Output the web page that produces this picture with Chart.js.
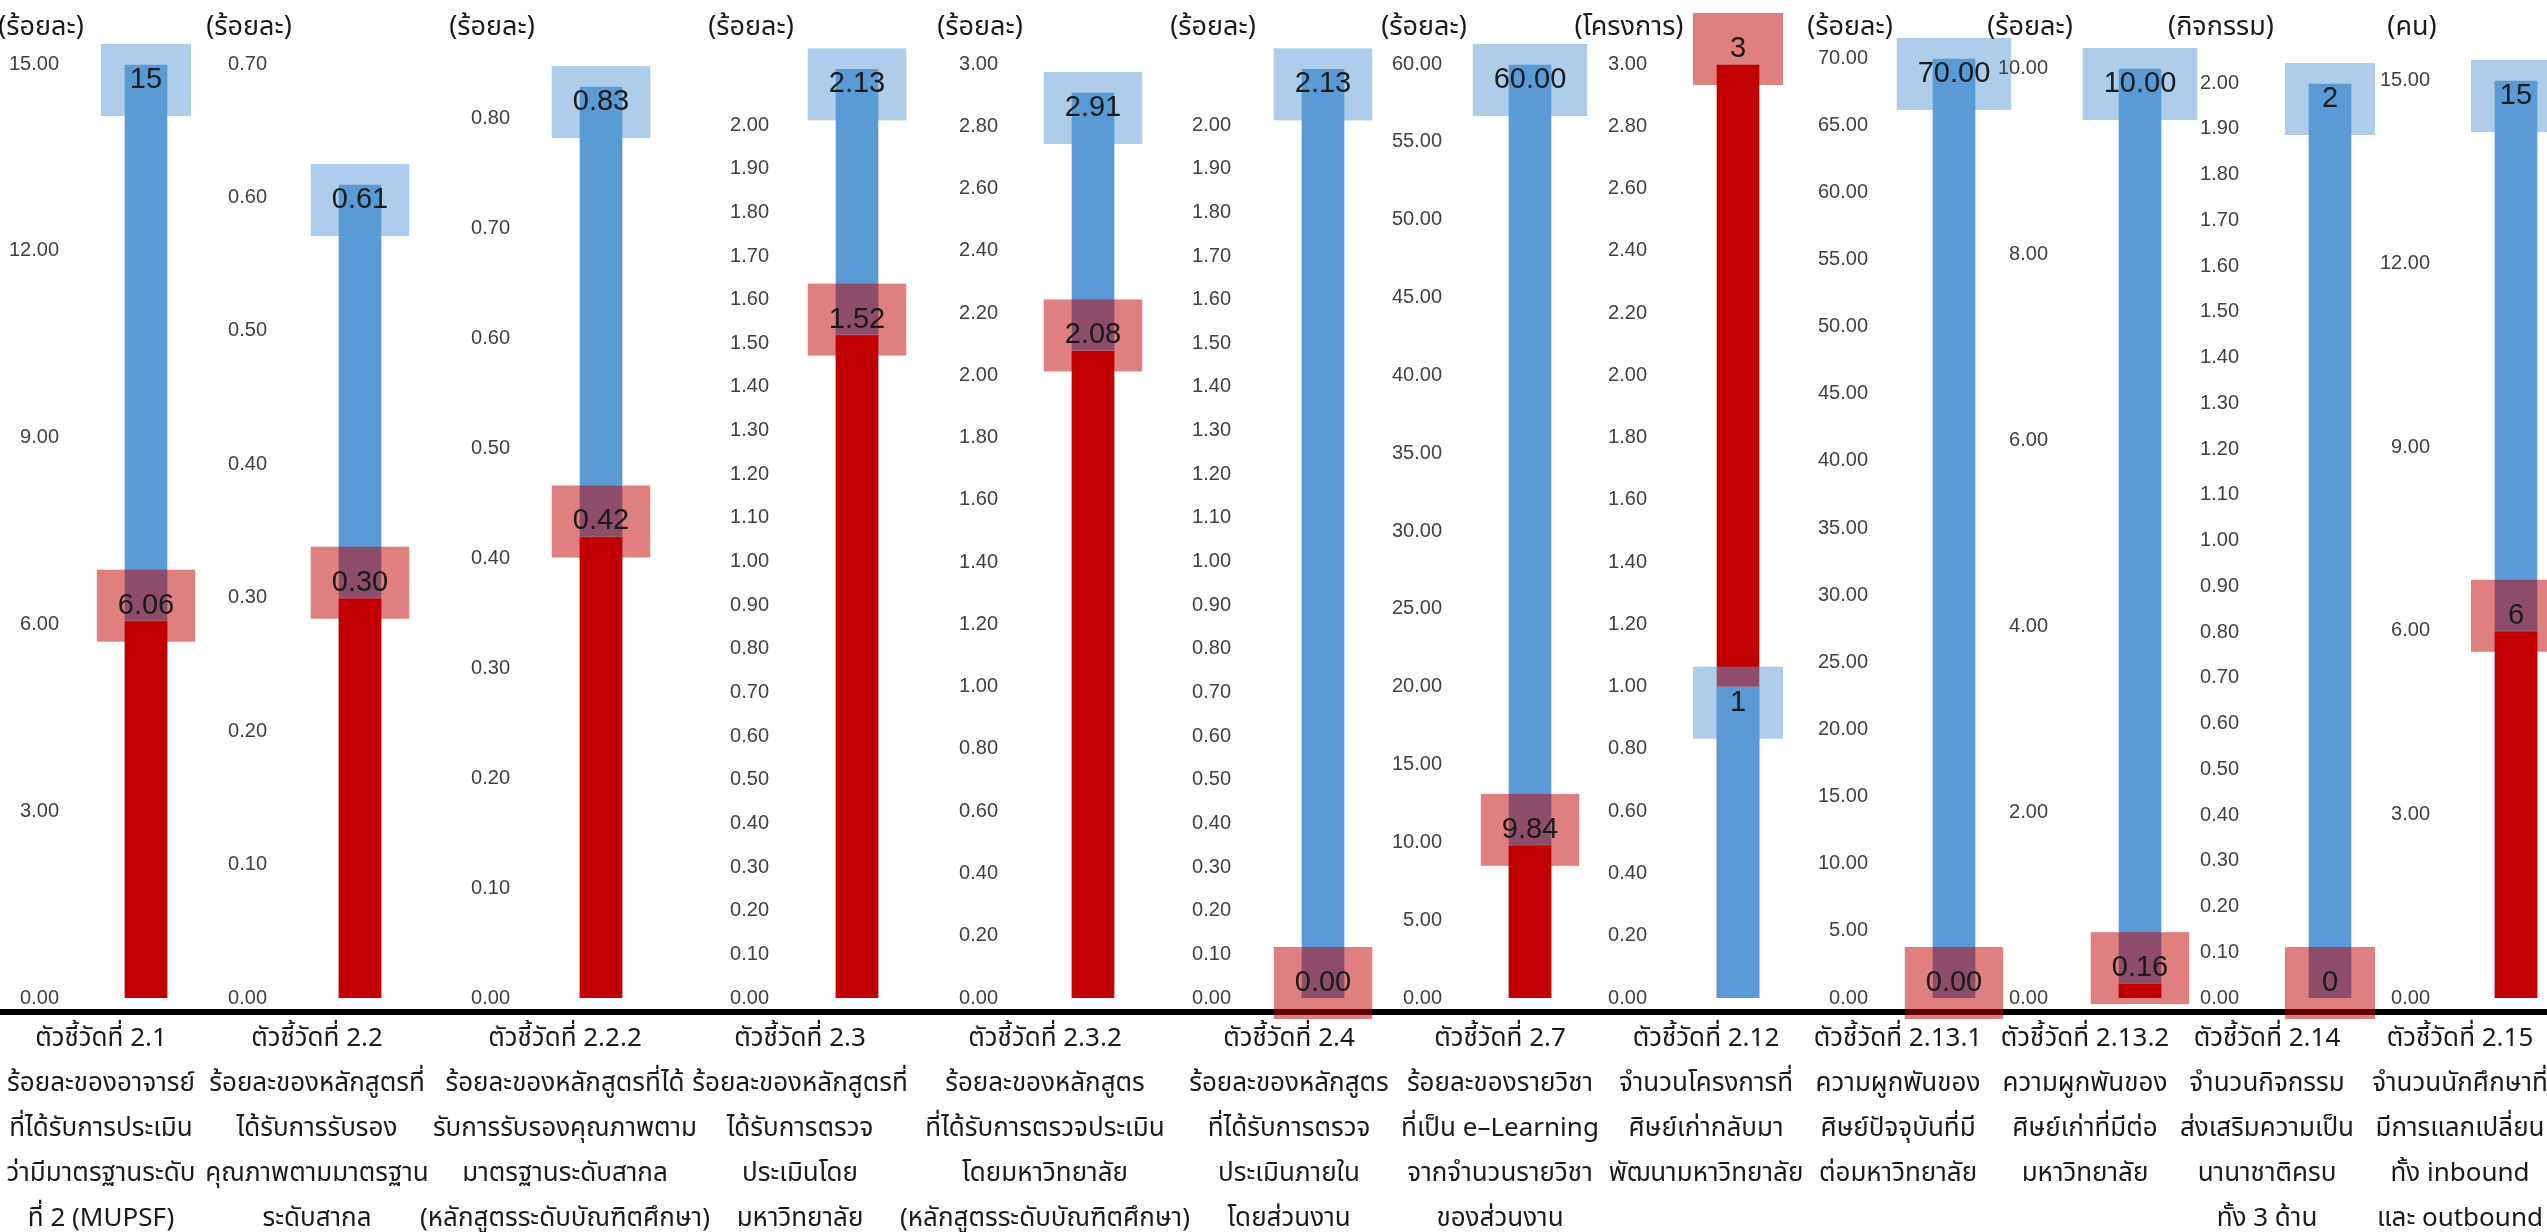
<!DOCTYPE html>
<html>
<head>
<meta charset="utf-8">
<script src="https://cdn.jsdelivr.net/npm/chart.js@4.4.1/dist/chart.umd.min.js"></script>
<style>
  html, body { margin: 0; padding: 0; background: #fff; overflow: hidden; }
  #wrap { position: relative; width: 2547px; height: 1232px; overflow: hidden; }
  #wrap canvas { position: absolute; top: 0; }
  #baseline { position: absolute; left: 0; top: 1009px; width: 2547px; height: 6px; background: #000; }
</style>
</head>
<body>
<div id="wrap"><div id="baseline"></div></div>
<script>
// Indicator names (shown under each panel)
const indicatorLabels = [
  ['ตัวชี้วัดที่ 2.1', 'ร้อยละของอาจารย์', 'ที่ได้รับการประเมิน', 'ว่ามีมาตรฐานระดับ', 'ที่ 2 (MUPSF)'],
  ['ตัวชี้วัดที่ 2.2', 'ร้อยละของหลักสูตรที่', 'ได้รับการรับรอง', 'คุณภาพตามมาตรฐาน', 'ระดับสากล'],
  ['ตัวชี้วัดที่ 2.2.2', 'ร้อยละของหลักสูตรที่ได้', 'รับการรับรองคุณภาพตาม', 'มาตรฐานระดับสากล', '(หลักสูตรระดับบัณฑิตศึกษา)'],
  ['ตัวชี้วัดที่ 2.3', 'ร้อยละของหลักสูตรที่', 'ได้รับการตรวจ', 'ประเมินโดย', 'มหาวิทยาลัย'],
  ['ตัวชี้วัดที่ 2.3.2', 'ร้อยละของหลักสูตร', 'ที่ได้รับการตรวจประเมิน', 'โดยมหาวิทยาลัย', '(หลักสูตรระดับบัณฑิตศึกษา)'],
  ['ตัวชี้วัดที่ 2.4', 'ร้อยละของหลักสูตร', 'ที่ได้รับการตรวจ', 'ประเมินภายใน', 'โดยส่วนงาน'],
  ['ตัวชี้วัดที่ 2.7', 'ร้อยละของรายวิชา', 'ที่เป็น e–Learning', 'จากจำนวนรายวิชา', 'ของส่วนงาน'],
  ['ตัวชี้วัดที่ 2.12', 'จำนวนโครงการที่', 'ศิษย์เก่ากลับมา', 'พัฒนามหาวิทยาลัย'],
  ['ตัวชี้วัดที่ 2.13.1', 'ความผูกพันของ', 'ศิษย์ปัจจุบันที่มี', 'ต่อมหาวิทยาลัย'],
  ['ตัวชี้วัดที่ 2.13.2', 'ความผูกพันของ', 'ศิษย์เก่าที่มีต่อ', 'มหาวิทยาลัย'],
  ['ตัวชี้วัดที่ 2.14', 'จำนวนกิจกรรม', 'ส่งเสริมความเป็น', 'นานาชาติครบ', 'ทั้ง 3 ด้าน'],
  ['ตัวชี้วัดที่ 2.15', 'จำนวนนักศึกษาที่', 'มีการแลกเปลี่ยน', 'ทั้ง inbound', 'และ outbound']
];
const unitLabels = ['(ร้อยละ)', '(ร้อยละ)', '(ร้อยละ)', '(ร้อยละ)', '(ร้อยละ)', '(ร้อยละ)',
  '(ร้อยละ)', '(โครงการ)', '(ร้อยละ)', '(ร้อยละ)', '(กิจกรรม)', '(คน)'];

// Target (blue) and result (red) per indicator
const targetValues = [15, 0.61, 0.83, 2.13, 2.91, 2.13, 60.00, 1, 70.00, 10.00, 2, 15];
const actualValues = [6.06, 0.30, 0.42, 1.52, 2.08, 0.00, 9.84, 3, 0.00, 0.16, 0, 6];
const targetDecimals = [0, 2, 2, 2, 2, 2, 2, 0, 2, 2, 0, 0];
const actualDecimals = [2, 2, 2, 2, 2, 2, 2, 0, 2, 2, 0, 0];

// Axis of each panel
const axisMax = [15, 0.70, 0.85, 2.14, 3.00, 2.14, 60, 3.00, 70, 10, 2.00, 15];
const tickStep = [3, 0.1, 0.1, 0.1, 0.2, 0.1, 5, 0.2, 5, 2, 0.1, 3];

// Where each panel sits on the page
const panelLayout = [
  { tickRight: 59,   barCenter: 146,  labelShift: -45, top: 64 },
  { tickRight: 267,  barCenter: 360,  labelShift: -43, top: 64 },
  { tickRight: 510,  barCenter: 601,  labelShift: -36, top: 64 },
  { tickRight: 769,  barCenter: 857,  labelShift: -57, top: 64 },
  { tickRight: 998,  barCenter: 1093, labelShift: -48, top: 64 },
  { tickRight: 1231, barCenter: 1323, labelShift: -34, top: 64 },
  { tickRight: 1442, barCenter: 1530, labelShift: -30, top: 64 },
  { tickRight: 1647, barCenter: 1738, labelShift: -32, top: 64 },
  { tickRight: 1868, barCenter: 1954, labelShift: -56, top: 58 },
  { tickRight: 2048, barCenter: 2140, labelShift: -55, top: 68 },
  { tickRight: 2239, barCenter: 2330, labelShift: -63, top: 83 },
  { tickRight: 2430, barCenter: 2516, labelShift: -56, top: 80 }
];

const BLUE = '#5B9BD5';
const RED = '#C00000';
const BLUE_BOX = 'rgba(91, 155, 213, 0.5)';
const RED_BOX = 'rgba(192, 0, 0, 0.5)';
const NUM_FONT = "'Liberation Sans', Arial, sans-serif";
const THAI_FONT = "'Noto Sans Thai', 'Noto Sans', 'Liberation Sans', sans-serif";
const PAGE_H = 1232;
const PLOT_BOTTOM = 998;
const AXIS_W = 70;
const TICK_PAD = 8;
const MARGIN = 170;

// Value boxes, unit caption and indicator name
const panelDecor = {
  id: 'panelDecor',
  afterDatasetsDraw(chart, args, opts) {
    const ctx = chart.ctx;
    ctx.save();
    ctx.font = '29px ' + NUM_FONT;
    const items = chart.data.datasets.map((ds, di) => {
      const bar = chart.getDatasetMeta(di).data[0];
      const text = ds.data[0].toFixed(ds.decimals);
      const tw = ctx.measureText(text).width;
      const y = ds.isTarget ? bar.y + 16 : bar.y - 15;
      return { x: bar.x, y, text, w: Math.max(90, tw + 42), box: ds.boxColor };
    });
    items.forEach(it => {
      ctx.fillStyle = it.box;
      ctx.fillRect(it.x - it.w / 2, it.y - 36, it.w, 72);
    });
    ctx.fillStyle = '#1a1a1a';
    ctx.textAlign = 'center';
    ctx.textBaseline = 'middle';
    items.forEach(it => ctx.fillText(it.text, it.x, it.y));

    const yScale = chart.scales.y;
    ctx.font = '27px ' + THAI_FONT;
    ctx.fillStyle = '#1a1a1a';
    ctx.fillText(opts.unit, yScale.right - 26, 30);

    const cx = chart.getDatasetMeta(0).data[0].x + opts.labelShift;
    ctx.font = '26px ' + THAI_FONT;
    opts.lines.forEach((line, i) => ctx.fillText(line, cx, 1041 + i * 45));
    ctx.restore();
  }
};

const wrap = document.getElementById('wrap');

targetValues.forEach((target, i) => {
  const lay = panelLayout[i];
  const chartLeft = lay.tickRight + TICK_PAD;
  const plotW = 2 * (lay.barCenter - chartLeft);
  const canvasLeft = chartLeft - AXIS_W - MARGIN;
  const canvasW = MARGIN + AXIS_W + plotW + MARGIN;

  const canvas = document.createElement('canvas');
  canvas.width = canvasW;
  canvas.height = PAGE_H;
  canvas.style.left = canvasLeft + 'px';
  canvas.style.width = canvasW + 'px';
  canvas.style.height = PAGE_H + 'px';
  wrap.appendChild(canvas);

  const actual = actualValues[i];
  const step = tickStep[i];

  new Chart(canvas.getContext('2d'), {
    type: 'bar',
    data: {
      labels: [indicatorLabels[i][0]],
      datasets: [{
        label: 'เป้าหมาย',
        data: [target],
        decimals: targetDecimals[i],
        isTarget: true,
        boxColor: BLUE_BOX,
        backgroundColor: BLUE,
        borderColor: 'rgba(255, 255, 255, 0.45)',
        borderWidth: 1,
        order: target <= actual ? 0 : 1
      }, {
        label: 'ผลการดำเนินงาน',
        data: [actual],
        decimals: actualDecimals[i],
        isTarget: false,
        boxColor: RED_BOX,
        backgroundColor: RED,
        borderColor: 'rgba(255, 255, 255, 0.45)',
        borderWidth: 1,
        order: target <= actual ? 1 : 0
      }]
    },
    options: {
      responsive: false,
      animation: false,
      devicePixelRatio: 1,
      layout: {
        padding: { left: MARGIN, right: MARGIN, top: lay.top, bottom: PAGE_H - PLOT_BOTTOM }
      },
      datasets: {
        bar: { grouped: false, barThickness: 44 }
      },
      plugins: {
        legend: { display: false },
        tooltip: { enabled: false },
        title: { display: false },
        panelDecor: {
          unit: unitLabels[i],
          lines: indicatorLabels[i],
          labelShift: lay.labelShift
        }
      },
      scales: {
        x: { display: false },
        y: {
          min: 0,
          max: axisMax[i],
          afterFit: scale => { scale.width = AXIS_W; },
          afterBuildTicks: scale => {
            scale.ticks = scale.ticks.filter(t => {
              const k = t.value / step;
              return Math.abs(k - Math.round(k)) < 1e-6;
            });
          },
          grid: { display: false, drawTicks: false },
          border: { display: false },
          ticks: {
            stepSize: step,
            padding: TICK_PAD,
            color: '#404040',
            font: { family: NUM_FONT, size: 20 },
            callback: v => Number(v).toFixed(2)
          }
        }
      }
    },
    plugins: [panelDecor]
  });
});
</script>
</body>
</html>
